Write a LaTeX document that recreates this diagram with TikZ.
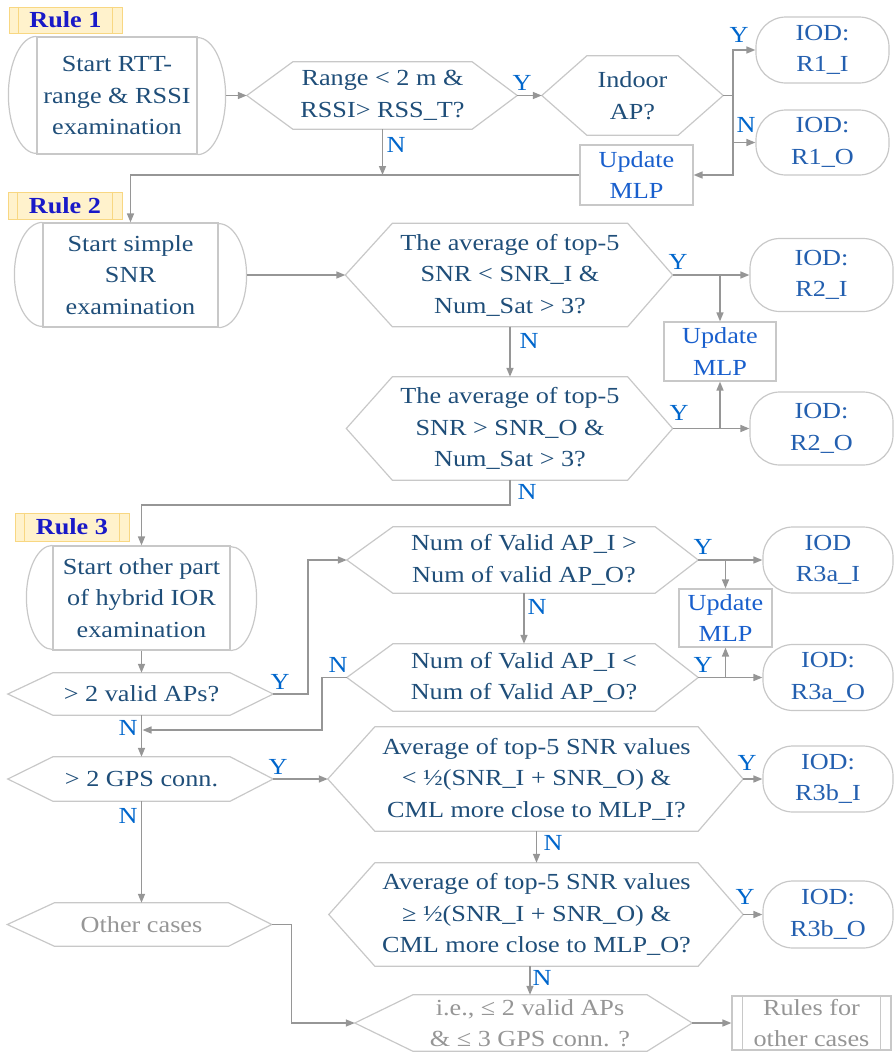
\documentclass[tikz,border=0pt]{standalone}
\usepackage{fontspec}
\setmainfont{Liberation Serif}[FakeStretch=1.14]
\usepackage{tikz}
\usetikzlibrary{arrows.meta}
\definecolor{qtext}{RGB}{31,78,121}
\definecolor{iodcol}{RGB}{35,95,175}
\definecolor{mlpcol}{RGB}{25,95,205}
\definecolor{yncol}{RGB}{0,102,204}
\definecolor{rulecol}{RGB}{25,25,200}
\definecolor{rulebg}{RGB}{255,242,204}
\definecolor{rulebd}{RGB}{248,215,130}
\definecolor{shp}{RGB}{200,200,200}
\definecolor{arrcol}{RGB}{150,150,150}
\definecolor{grtext}{RGB}{150,150,150}
\tikzset{
  base/.style={inner sep=0pt, align=center, text=qtext, font=\fontsize{23}{31.5}\selectfont},
  shapeline/.style={draw=shp, line width=1.2pt},
  rulebox/.style={base, draw=rulebd, fill=rulebg, line width=1pt, text=rulecol, font=\bfseries\fontsize{23}{28}\selectfont},
  startbox/.style={base, shapeline},
  hexbox/.style={base},
  iodbox/.style={base, shapeline, rounded corners=30pt, text=iodcol},
  mlpbox/.style={base, shapeline, text=mlpcol},
  yn/.style={inner sep=0pt, text=yncol, font=\fontsize{23}{28}\selectfont},
  arr/.style={draw=arrcol, line width=1.5pt, -{Triangle[length=9pt,width=7pt]}}
}

\begin{document}
\begin{tikzpicture}[x=1pt, y=-1pt]
    \useasboundingbox (0,0) rectangle (894,1053);
    % Rule 1
    \node[rulebox, minimum width=113pt, minimum height=26pt] (rule1) at (65.5,20) {Rule 1};
    \node[startbox, minimum width=160pt, minimum height=117pt] (s1) at (117,95.5) {Start RTT-\\range \& RSSI\\examination};
    \node[hexbox, minimum width=179pt, minimum height=67pt] (d1) at (382.5,95.5) {Range < 2 m \&\\RSSI> RSS\_T?};
    \node[hexbox, minimum width=91pt, minimum height=79pt] (d2) at (632.5,95.5) {Indoor\\AP?};
    \node[iodbox, minimum width=133pt, minimum height=66pt] (r1i) at (822.5,50) {IOD:\\R1\_I};
    \node[iodbox, minimum width=133pt, minimum height=65pt] (r1o) at (822.5,142.5) {IOD:\\R1\_O};
    \node[mlpbox, minimum width=113pt, minimum height=60pt] (m1) at (636.5,175) {Update\\MLP};
    % Rule 2
    \node[rulebox, minimum width=114pt, minimum height=27pt] (rule2) at (65,205.5) {Rule 2};
    \node[startbox, minimum width=175pt, minimum height=104pt] (s2) at (130.5,275) {Start simple\\SNR\\examination};
    \node[hexbox, minimum width=235pt, minimum height=103pt] (d3) at (510,275) {The average of top-5\\SNR < SNR\_I \&\\Num\_Sat > 3?};
    \node[hexbox, minimum width=235pt, minimum height=103pt] (d4) at (510,428.5) {The average of top-5\\SNR > SNR\_O \&\\Num\_Sat > 3?};
    \node[iodbox, minimum width=143pt, minimum height=73pt] (r2i) at (821.5,275) {IOD:\\R2\_I};
    \node[iodbox, minimum width=143pt, minimum height=73pt] (r2o) at (821.5,428.5) {IOD:\\R2\_O};
    \node[mlpbox, minimum width=112pt, minimum height=59pt] (m2) at (720,351.5) {Update\\MLP};
    % Rule 3
    \node[rulebox, minimum width=114pt, minimum height=28pt] (rule3) at (72,527) {Rule 3};
    \node[startbox, minimum width=177pt, minimum height=104pt] (s3) at (141.5,598) {Start other part\\of hybrid IOR\\examination};
    \node[hexbox, minimum width=177pt, minimum height=42pt] (d5) at (141.5,694) {> 2 valid APs?};
    \node[hexbox, minimum width=262pt, minimum height=66pt] (d6) at (524,560) {Num of Valid AP\_I >\\Num of valid AP\_O?};
    \node[hexbox, minimum width=262pt, minimum height=67pt] (d7) at (524,677.5) {Num of Valid AP\_I <\\Num of Valid AP\_O?};
    \node[iodbox, minimum width=130pt, minimum height=66pt] (r3ai) at (828,560) {IOD\\R3a\_I};
    \node[iodbox, minimum width=130pt, minimum height=66pt] (r3ao) at (828,677.5) {IOD:\\R3a\_O};
    \node[mlpbox, minimum width=93pt, minimum height=58pt] (m3) at (725.5,618) {Update\\MLP};
    \node[hexbox, minimum width=177pt, minimum height=44pt] (d8) at (141.5,779) {> 2 GPS conn.};
    \node[hexbox, minimum width=323pt, minimum height=104pt] (d9) at (536.5,779) {Average of top-5 SNR values\\< ½(SNR\_I + SNR\_O) \&\\CML more close to MLP\_I?};
    \node[hexbox, minimum width=323pt, minimum height=103pt] (d10) at (536.5,914.5) {Average of top-5 SNR values\\≥ ½(SNR\_I + SNR\_O) \&\\CML more close to MLP\_O?};
    \node[iodbox, minimum width=130pt, minimum height=66pt] (r3bi) at (828,779) {IOD:\\R3b\_I};
    \node[iodbox, minimum width=130pt, minimum height=67pt] (r3bo) at (828,914.5) {IOD:\\R3b\_O};
    \node[hexbox, text=grtext, minimum width=174pt, minimum height=43pt] (oc) at (141.5,924.5) {Other cases};
    \node[hexbox, text=grtext, minimum width=234pt, minimum height=56pt] (d11) at (530,1023) {i.e., ≤ 2 valid APs\\\& ≤ 3 GPS conn. ?};
    \node[base, shapeline, text=grtext, minimum width=159pt, minimum height=54pt] (oth) at (811.5,1023) {Rules for\\other cases};

    % outlines of the decision boxes
    \foreach \n/\dl/\dr in {d1/46/45, d2/45/45, d3/47/45, d4/46/45, d5/45/43, d6/46/43, d7/46/43,
                            d8/45/43, d9/47/45, d10/46/45, oc/47/43, d11/58/45} {
      \coordinate (\n-l) at ([xshift=-\dl pt]\n.west);
      \coordinate (\n-r) at ([xshift=\dr pt]\n.east);
      \draw[shapeline] (\n.north west) -- (\n-l) -- (\n.south west) -- (\n.south east) -- (\n-r) -- (\n.north east) -- cycle;
    }
    % round ends of the start boxes
    \foreach \n/\rx/\ry in {s1/28/58.5, s2/28/52, s3/26/52} {
      \coordinate (\n-r) at ([xshift=\rx pt]\n.east);
      \draw[shapeline] (\n.north west) arc[start angle=90, end angle=270, x radius=\rx pt, y radius=\ry pt];
      \draw[shapeline] (\n.south east) arc[start angle=-90, end angle=90, x radius=\rx pt, y radius=\ry pt];
    }
    % inner bars
    \foreach \n/\b/\c in {rule1/10/rulebd, rule2/10/rulebd, rule3/10/rulebd, oth/11/shp} {
      \draw[draw=\c, line width=1pt] ([xshift=\b pt]\n.north west) -- ([xshift=\b pt]\n.south west);
      \draw[draw=\c, line width=1pt] ([xshift=-\b pt]\n.north east) -- ([xshift=-\b pt]\n.south east);
    }

    % Rule 1 arrows
    \draw[arr] (s1-r) -- (d1-l);
    \draw[arr] (d1-r) -- (d2-l);
    \draw[arr] (d2-r) -- ++(10,0) |- (r1i.west);
    \draw[arr] (d2-r) -- ++(10,0) |- (r1o.west);
    \draw[arr] (d2-r) -- ++(10,0) |- (m1.east);
    \draw[arr] (d1.south) -- (d1.south |- m1.west);
    \draw[arr] (m1.west) -| (s2.north);
    % Rule 2 arrows
    \draw[arr] (s2-r) -- (d3-l);
    \draw[arr] (d3.south) -- (d4.north);
    \draw[arr] (d3-r) -- (r2i.west);
    \draw[arr] (d3-r -| m2.north) -- (m2.north);
    \draw[arr] (d4-r) -- (r2o.west);
    \draw[arr] (d4-r -| m2.south) -- (m2.south);
    \draw[arr] (d4.south) -- ++(0,25) -| (s3.north);
    % Rule 3 arrows
    \coordinate (j1) at (d5.south |- 0,730);
    \draw[arr] (s3.south) -- (d5.north);
    \draw[arr] (d5-r) -- ++(35,0) |- (d6-l);
    \draw[arr] (d6.south) -- (d7.north);
    \draw[arr] (d6-r) -- (r3ai.west);
    \draw[arr] (d6-r -| m3.north) -- (m3.north);
    \draw[arr] (d7-r) -- (r3ao.west);
    \draw[arr] (d7-r -| m3.south) -- (m3.south);
    \draw[arr] (d7-l) -- ++(-25,0) |- ([xshift=1pt]j1);
    \draw[arr] (d5.south) -- (d8.north);
    \draw[arr] (d8-r) -- (d9-l);
    \draw[arr] (d9.south) -- (d10.north);
    \draw[arr] (d9-r) -- (r3bi.west);
    \draw[arr] (d10-r) -- (r3bo.west);
    \draw[arr] (d11.north |- d10.south) -- (d11.north);
    \draw[arr] (d8.south) -- (oc.north);
    \draw[arr] (oc-r) -- ++(20,0) |- (d11-l);
    \draw[arr] (d11-r) -- (oth.west);

    % Y / N labels
    \node[yn] (yA) at (522,83) {Y};
    \node[yn] (nA) at (396,145) {N};
    \node[yn] (yB) at (739,35) {Y};
    \node[yn] (nB) at (746,125) {N};
    \node[yn] (yC) at (678,262) {Y};
    \node[yn] (nC) at (529,341) {N};
    \node[yn] (yD) at (679,413) {Y};
    \node[yn] (nD) at (527,492) {N};
    \node[yn] (yE) at (280,682) {Y};
    \node[yn] (nE) at (128,728) {N};
    \node[yn] (yF) at (703,547) {Y};
    \node[yn] (nF) at (537,607) {N};
    \node[yn] (yG) at (703,665) {Y};
    \node[yn] (nG) at (338,665) {N};
    \node[yn] (yH) at (278,767) {Y};
    \node[yn] (nH) at (128,816) {N};
    \node[yn] (yI) at (747,763) {Y};
    \node[yn] (nI) at (553,843) {N};
    \node[yn] (yJ) at (745,897) {Y};
    \node[yn] (nJ) at (542,978) {N};
\end{tikzpicture}
\end{document}
